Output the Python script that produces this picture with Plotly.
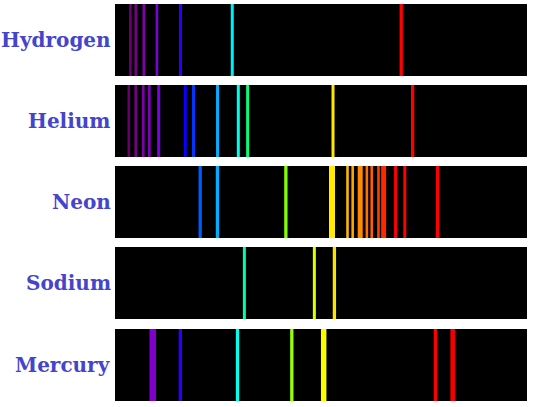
import plotly.graph_objects as go

# Element names (top to bottom)
elements = ["Hydrogen", "Helium", "Neon", "Sodium", "Mercury"]

# Emission line wavelengths (nm)
hydrogen_nm = [383.5, 388.9, 397.0, 410.2, 434.0, 486.1, 656.3]
helium_nm = [381.9, 388.9, 396.5, 402.6, 412.0, 438.8, 447.1, 471.3, 492.2, 501.6, 587.6, 667.8]
neon_nm = [453.8, 471.2, 540.1, 586.6, 602.2, 607.4, 615.0, 621.7, 626.6, 633.4, 638.6, 650.6, 659.9, 692.9]
sodium_nm = [498.3, 568.8, 589.0]
mercury_nm = [406.0, 433.8, 491.4, 546.1, 578.2, 690.7, 708.2]

# Drawn line widths (px)
hydrogen_w = [2.6, 2.6, 2.6, 2.6, 3, 3, 3.3]
helium_w = [2.6, 2.6, 2.6, 2.6, 3, 3, 3, 3, 3, 3, 3, 3.3]
neon_w = [3.3, 3.3, 3.3, 6, 2.6, 2.6, 5, 2.6, 2.6, 2.6, 5, 3, 3, 3.3]
sodium_w = [3, 3, 3.3]
mercury_w = [6.5, 3.3, 3.3, 3.3, 5.5, 3.3, 4.7]

spectra = [hydrogen_nm, helium_nm, neon_nm, sodium_nm, mercury_nm]
widths = [hydrogen_w, helium_w, neon_w, sodium_w, mercury_w]

x_range = [368, 783]


def wl_color(wl):
    if wl < 440:
        r, g, b = -(wl - 440) / 60, 0.0, 1.0
    elif wl < 490:
        r, g, b = 0.0, (wl - 440) / 50, 1.0
    elif wl < 510:
        r, g, b = 0.0, 1.0, -(wl - 510) / 20
    elif wl < 580:
        r, g, b = (wl - 510) / 70, 1.0, 0.0
    elif wl < 645:
        r, g, b = 1.0, -(wl - 645) / 65, 0.0
    else:
        r, g, b = 1.0, 0.0, 0.0
    if wl < 420:
        f = 0.3 + 0.7 * (wl - 380) / 40
    elif wl > 700:
        f = 0.3 + 0.7 * (780 - wl) / 80
    else:
        f = 1.0
    f = max(0.3, min(1.0, f))
    def c(v):
        return int(round(255 * (v * f) ** 0.8)) if v > 0 else 0
    return f"rgb({c(r)},{c(g)},{c(b)})"


fig = go.Figure()

# panel vertical pixel extents (top, bottom) in a 407px tall figure
H = 407
m_top, m_bot = 4, 6
plot_h = H - m_top - m_bot
panel_px = [(4, 76), (85, 157), (166, 238), (247, 319), (329, 401)]

for i, (name, lines, ws) in enumerate(zip(elements, spectra, widths)):
    idx = "" if i == 0 else str(i + 1)
    top, bot = panel_px[i]
    d0 = (H - m_bot - bot) / plot_h
    d1 = (H - m_bot - top) / plot_h
    fig.update_layout(**{
        f"xaxis{idx}": dict(range=x_range, visible=False, fixedrange=True,
                            anchor=f"y{idx}", domain=[0, 1]),
        f"yaxis{idx}": dict(range=[0, 1], visible=False, fixedrange=True,
                            anchor=f"x{idx}", domain=[max(0, d0), min(1, d1)]),
    })
    for wl, w in zip(lines, ws):
        fig.add_trace(go.Scatter(
            x=[wl, wl], y=[0, 1], mode="lines",
            line=dict(color=wl_color(wl), width=w),
            xaxis=f"x{idx}", yaxis=f"y{idx}",
            hoverinfo="skip", showlegend=False,
        ))
    fig.add_annotation(
        text=f"<b>{name}</b>", xref="paper", yref=f"y{idx} domain",
        x=-0.006, y=0.5, xanchor="right", yanchor="middle", showarrow=False,
        font=dict(family="DejaVu Serif", size=20, color="#4444cc"),
    )

fig.update_layout(
    width=535, height=407,
    margin=dict(l=115, r=8, t=m_top, b=m_bot),
    plot_bgcolor="black", paper_bgcolor="white",
    showlegend=False,
)

fig.write_html(
    "out.html",
    config={"displayModeBar": False},
    post_script="document.body.style.margin='0';document.body.style.overflow='hidden';",
)
